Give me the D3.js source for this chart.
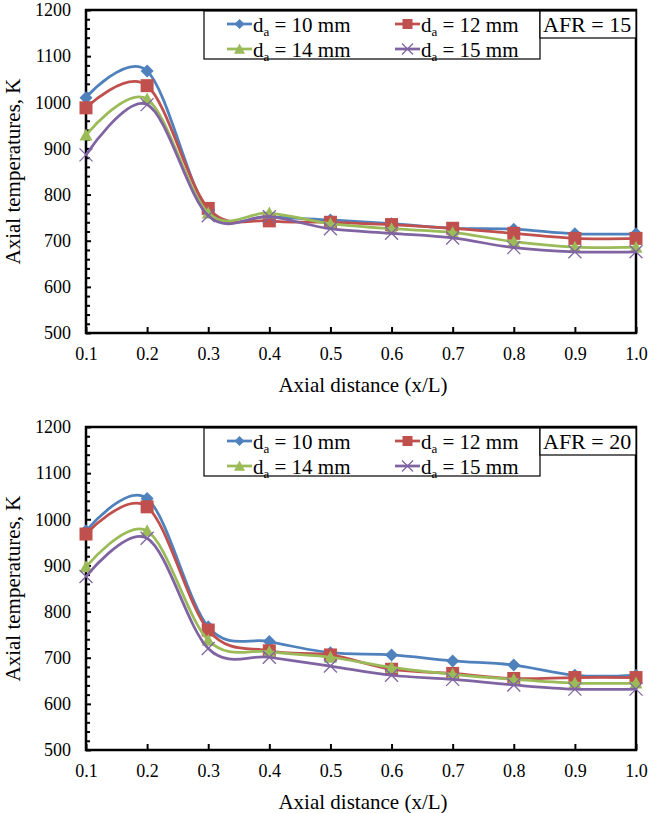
<!DOCTYPE html>
<html><head><meta charset="utf-8">
<script src="https://cdn.jsdelivr.net/npm/d3@7"></script>
<style>body{margin:0;background:#fff}svg{display:block}
svg text{font-family:"Liberation Serif","Times New Roman",Times,serif;}</style>
</head><body><svg id="c" width="653" height="813"></svg>
<script>
// ---- data ----
const xValues = [0.1, 0.2, 0.3, 0.4, 0.5, 0.6, 0.7, 0.8, 0.9, 1.0];
const xTickLabels = ["0.1", "0.2", "0.3", "0.4", "0.5", "0.6", "0.7", "0.8", "0.9", "1.0"];
const yTicks = [500, 600, 700, 800, 900, 1000, 1100, 1200];
const seriesDiameters = ["10", "12", "14", "15"];
const afrLabels = ["AFR = 15", "AFR = 20"];
const xTitle = "Axial distance (x/L)";
const yTitle = "Axial temperatures, K";

// AFR = 15
const afr15_d10 = [1010, 1068, 765, 752, 745, 737, 727, 725, 715, 715];
const afr15_d12 = [988, 1036, 770, 743, 740, 735, 727, 716, 705, 705];
const afr15_d14 = [929, 1007, 760, 760, 737, 726, 718, 698, 686, 686];
const afr15_d15 = [886, 995, 754, 752, 726, 716, 706, 685, 676, 676];
// AFR = 20
const afr20_d10 = [975, 1045, 767, 735, 711, 706, 693, 684, 662, 662];
const afr20_d12 = [968, 1027, 760, 715, 706, 675, 666, 655, 657, 657];
const afr20_d14 = [897, 975, 738, 713, 701, 679, 664, 653, 645, 645];
const afr20_d15 = [876, 959, 720, 701, 682, 662, 653, 641, 632, 632];

const panels = [
  {afr: afrLabels[0], series: [afr15_d10, afr15_d12, afr15_d14, afr15_d15]},
  {afr: afrLabels[1], series: [afr20_d10, afr20_d12, afr20_d14, afr20_d15]}
];

// ---- style ----
const colors = ["#4F81BD", "#C0504D", "#9BBB59", "#8064A2"];
const shapes = ["diamond", "square", "triangle", "x"];
const W = 550, H = 323, LEFT = 86, TOPS = [10, 427];

const svg = d3.select("#c");

function markerPath(shape, s) {
  const h = s / 2;
  if (shape === "diamond") return `M0,${-h}L${h},0L0,${h}L${-h},0Z`;
  if (shape === "square") return `M${-h},${-h}H${h}V${h}H${-h}Z`;
  if (shape === "triangle") return `M0,${-h}L${h},${h*0.85}L${-h},${h*0.85}Z`;
  return `M${-h},${-h}L${h},${h}M${-h},${h}L${h},${-h}`;
}
const markerSize = {diamond: 13, square: 13, triangle: 13, x: 13};
const legendMarkerSize = {diamond: 10, square: 10, triangle: 11, x: 11};

function drawMarker(sel, shape, color, size) {
  if (shape === "x") {
    sel.append("path").attr("d", markerPath(shape, size))
      .attr("fill", "none").attr("stroke", color).attr("stroke-width", 1.3);
  } else {
    sel.append("path").attr("d", markerPath(shape, size)).attr("fill", color);
  }
}

panels.forEach((p, pi) => {
  const g = svg.append("g").attr("transform", `translate(${LEFT},${TOPS[pi]})`);
  const x = d3.scaleLinear().domain([0.1, 1.0]).range([0, W]);
  const y = d3.scaleLinear().domain([500, 1200]).range([H, 0]);

  // minor y ticks
  const minor = d3.range(520, 1200, 20).filter(v => v % 100 !== 0);
  g.append("g").call(d3.axisLeft(y).tickValues(minor).tickFormat("").tickSizeInner(-4).tickSizeOuter(0))
    .call(a => a.select(".domain").remove())
    .selectAll("line").attr("stroke", "#000").attr("stroke-width", 2);
  // major y ticks
  const ya = g.append("g").call(d3.axisLeft(y).tickValues(yTicks).tickFormat(d3.format("d"))
      .tickSizeInner(-5).tickSizeOuter(0).tickPadding(15));
  ya.select(".domain").remove();
  ya.selectAll("line").attr("stroke", "#000").attr("stroke-width", 2);
  ya.selectAll("text").attr("font-family", null).attr("font-size", 18).attr("fill", "#000");

  // x axis
  const xa = g.append("g").attr("transform", `translate(0,${H})`)
    .call(d3.axisBottom(x).tickValues(xValues).tickFormat((d, i) => xTickLabels[i])
      .tickSizeInner(-6).tickSizeOuter(0).tickPadding(14));
  xa.select(".domain").remove();
  xa.selectAll("line").attr("stroke", "#000").attr("stroke-width", 2);
  xa.selectAll("text").attr("font-family", null).attr("font-size", 18).attr("fill", "#000");
  svg.attr("font-family", null);

  // frame
  g.append("rect").attr("x", 0).attr("y", 0).attr("width", W).attr("height", H)
    .attr("fill", "none").attr("stroke", "#000").attr("stroke-width", 2.5);

  // series
  const line = d3.line().x((d, i) => x(xValues[i])).y(d => y(d)).curve(d3.curveCardinal.tension(0));
  p.series.forEach((vals, si) => {
    const sg = g.append("g");
    sg.append("path").attr("d", line(vals)).attr("fill", "none")
      .attr("stroke", colors[si]).attr("stroke-width", 2.75);
    vals.forEach((v, i) => {
      const m = sg.append("g").attr("transform", `translate(${x(xValues[i])},${y(v)})`);
      drawMarker(m, shapes[si], colors[si], markerSize[shapes[si]]);
    });
  });

  // legend box
  const lx = 118, lw = 336, lh = 48, ly = 1;
  const lg = g.append("g");
  lg.append("rect").attr("x", lx).attr("y", ly).attr("width", lw).attr("height", lh)
    .attr("fill", "#fff").attr("stroke", "#000").attr("stroke-width", 1.2);
  seriesDiameters.forEach((d, si) => {
    const col = si % 2, row = Math.floor(si / 2);
    const mx = lx + 23 + col * 168, my = ly + 13 + row * 25;
    lg.append("line").attr("x1", mx).attr("x2", mx + 25).attr("y1", my).attr("y2", my)
      .attr("stroke", colors[si]).attr("stroke-width", 2.75);
    const m = lg.append("g").attr("transform", `translate(${mx + 12.5},${my})`);
    drawMarker(m, shapes[si], colors[si], legendMarkerSize[shapes[si]]);
    const t = lg.append("text").attr("x", mx + 26).attr("y", my + 7.5)
      .attr("font-size", 21).attr("fill", "#000");
    t.append("tspan").text("d");
    t.append("tspan").attr("font-size", 13).attr("dy", 4).text("a");
    t.append("tspan").attr("dy", -4).text(` = ${d} mm`);
  });
  // AFR box
  g.append("rect").attr("x", lx + lw).attr("y", ly).attr("width", W - lx - lw).attr("height", 27)
    .attr("fill", "#fff").attr("stroke", "#000").attr("stroke-width", 1.2);
  g.append("text").attr("x", lx + lw + 3).attr("y", ly + 21)
    .attr("font-size", 22).attr("fill", "#000").text(p.afr);

  // titles
  g.append("text").attr("x", 363 - LEFT).attr("y", H + 59)
    .attr("text-anchor", "middle").attr("font-size", 21).text(xTitle);
  g.append("text").attr("transform", `translate(${-66},${H / 2}) rotate(-90)`)
    .attr("text-anchor", "middle").attr("font-size", 21).text(yTitle);
});
</script>
</body></html>
